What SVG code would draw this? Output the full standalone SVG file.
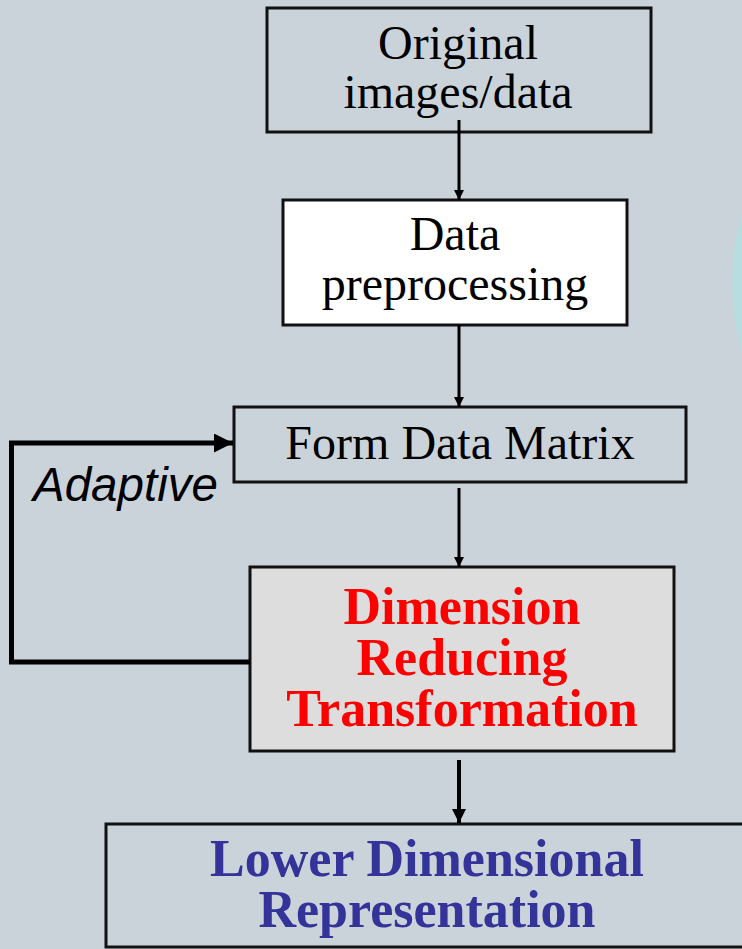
<svg xmlns="http://www.w3.org/2000/svg" width="742" height="949" viewBox="0 0 742 949">
  <style>
    .box { stroke: #111; stroke-width: 3; }
    .plain { fill: #cbd3da; }
    .serif { font-family: "Liberation Serif", "Times New Roman", serif; font-size: 48px; fill: #000; text-anchor: middle; }
    .bold { font-family: "Liberation Serif", "Times New Roman", serif; font-size: 52px; font-weight: bold; text-anchor: middle; }
    .flow { stroke: #000; stroke-width: 3; fill: none; }
    .label { font-family: "Liberation Sans", Arial, sans-serif; font-size: 47.5px; font-style: italic; fill: #000; }
  </style>
  <defs>
    <marker id="tip" viewBox="0 0 10 10" refX="10" refY="5" markerWidth="3.5" markerHeight="3.5" markerUnits="strokeWidth" orient="auto">
      <path d="M0,0 L10,5 L0,10 Z" fill="#000"/>
    </marker>
    <marker id="tipBig" viewBox="0 0 10 10" refX="10" refY="5" markerWidth="3.5" markerHeight="3.5" markerUnits="strokeWidth" orient="auto">
      <path d="M0,0 L10,5 L0,10 Z" fill="#000"/>
    </marker>
    <marker id="tipWide" viewBox="0 0 10 10" refX="10" refY="5" markerWidth="3.8" markerHeight="3.8" markerUnits="strokeWidth" orient="auto">
      <path d="M0,0 L10,5 L0,10 Z" fill="#000"/>
    </marker>
  </defs>

  <!-- slide background -->
  <rect width="742" height="949" fill="#cbd3da"/>
  <circle cx="982" cy="283" r="250" fill="#b8dde0"/>

  <g id="original">
    <rect class="box plain" x="267" y="8" width="384" height="124"/>
    <text class="serif" x="458" y="59">Original</text>
    <text class="serif" x="458" y="108">images/data</text>
  </g>

  <g id="preprocessing">
    <rect class="box" fill="#ffffff" x="283" y="200" width="344" height="125"/>
    <text class="serif" x="455" y="250">Data</text>
    <text class="serif" x="455" y="300">preprocessing</text>
  </g>

  <g id="matrix">
    <rect class="box plain" x="234" y="407" width="452" height="75"/>
    <text class="serif" x="460" y="459">Form Data Matrix</text>
  </g>

  <g id="reduce">
    <rect class="box" fill="#dddddd" x="250" y="567" width="424" height="184"/>
    <text class="bold" fill="#ff0000" x="462" y="624">Dimension</text>
    <text class="bold" fill="#ff0000" x="462" y="675">Reducing</text>
    <text class="bold" fill="#ff0000" x="462" y="726">Transformation</text>
  </g>

  <g id="lower">
    <rect class="box plain" x="106" y="824" width="650" height="123"/>
    <text class="bold" fill="#333399" x="427" y="876">Lower Dimensional</text>
    <text class="bold" fill="#333399" x="427" y="927">Representation</text>
  </g>

  <g id="connectors">
    <line class="flow" x1="459" y1="120" x2="459" y2="200" marker-end="url(#tip)"/>
    <line class="flow" x1="459" y1="325" x2="459" y2="407" marker-end="url(#tip)"/>
    <line class="flow" x1="459" y1="488" x2="459" y2="567" marker-end="url(#tip)"/>
    <line class="flow" style="stroke-width:4" x1="459" y1="760" x2="459" y2="823" marker-end="url(#tipBig)"/>
    <path class="flow" style="stroke-width:5" d="M250,662 H11.5 V443 H233" marker-end="url(#tipWide)"/>
    <text class="label" x="33" y="501">Adaptive</text>
  </g>
</svg>
